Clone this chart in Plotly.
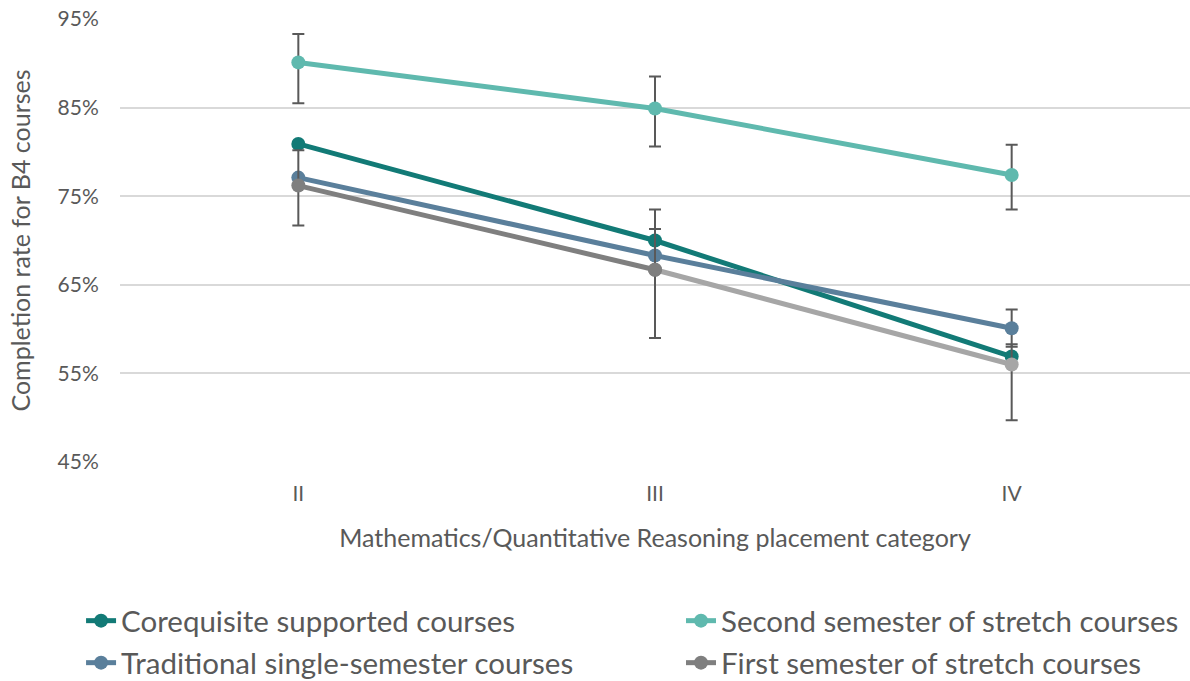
import plotly.graph_objects as go

categories = ["II", "III", "IV"]

coreq = [80.9, 70.0, 56.9]
second = [90.1, 84.9, 77.4]
traditional = [77.1, 68.3, 60.1]
first = [76.2, 66.7, 56.0]

coreq_plus = [0.0, 3.5, 0.0]
coreq_minus = [0.0, 0.0, 0.0]
second_plus = [3.2, 3.6, 3.4]
second_minus = [4.6, 4.3, 3.9]
trad_plus = [0.0, 0.0, 2.1]
trad_minus = [0.0, 0.0, 2.1]
first_plus = [4.0, 4.6, 2.3]
first_minus = [4.5, 7.7, 6.3]

y_ticks = [45, 55, 65, 75, 85, 95]
y_tick_labels = ["45%", "55%", "65%", "75%", "85%", "95%"]

names = ["Corequisite supported courses", "Second semester of stretch courses",
         "Traditional single-semester courses", "First semester of stretch courses"]

C_COREQ = "#127a76"
C_SECOND = "#5fb9ae"
C_TRAD = "#5a7f9b"
C_FIRST = "#7f7f7f"
C_FIRST_LIGHT = "#a6a6a6"
C_ERR = "#595959"
C_TEXT = "#595959"
FONT = "Lato"

def err(plus, minus):
    return dict(type="data", symmetric=False, array=plus, arrayminus=minus,
                color=C_ERR, thickness=2, width=6)

fig = go.Figure()

fig.add_trace(go.Scatter(x=categories, y=coreq, name=names[0], mode="lines+markers",
                         legend="legend",
                         line=dict(color=C_COREQ, width=5), marker=dict(color=C_COREQ, size=14),
                         error_y=err(coreq_plus, coreq_minus)))
fig.add_trace(go.Scatter(x=categories, y=second, name=names[1], mode="lines+markers",
                         legend="legend2",
                         line=dict(color=C_SECOND, width=5), marker=dict(color=C_SECOND, size=14),
                         error_y=err(second_plus, second_minus)))
fig.add_trace(go.Scatter(x=categories, y=traditional, name=names[2], mode="lines+markers",
                         legend="legend3",
                         line=dict(color=C_TRAD, width=5), marker=dict(color=C_TRAD, size=14),
                         error_y=err(trad_plus, trad_minus)))
# light grey segment III -> IV of the first semester series
fig.add_trace(go.Scatter(x=categories[1:], y=first[1:], name=names[3], mode="lines+markers",
                         showlegend=False,
                         line=dict(color=C_FIRST_LIGHT, width=5),
                         marker=dict(color=[C_FIRST, C_FIRST_LIGHT], size=14),
                         error_y=err(first_plus[1:], first_minus[1:])))
fig.add_trace(go.Scatter(x=categories[:2], y=first[:2], name=names[3], mode="lines+markers",
                         legend="legend4",
                         line=dict(color=C_FIRST, width=5), marker=dict(color=C_FIRST, size=14),
                         error_y=err(first_plus[:2], first_minus[:2])))

def leg(x, y):
    return dict(orientation="v", x=x, y=y, xanchor="left", yanchor="middle",
                font=dict(size=29.5, color=C_TEXT, family=FONT),
                bgcolor="rgba(0,0,0,0)", borderwidth=0)

fig.update_layout(
    width=1190, height=681,
    margin=dict(l=120, r=0, t=19, b=219, autoexpand=False),
    paper_bgcolor="white", plot_bgcolor="white",
    font=dict(family=FONT, color=C_TEXT, size=21),
    showlegend=True,
    legend=leg(-0.0364, -0.3589),
    legend2=leg(0.5243, -0.3589),
    legend3=leg(-0.0364, -0.4537),
    legend4=leg(0.5243, -0.4537),
    xaxis=dict(type="category", range=[-0.5, 2.5], showgrid=False, zeroline=False,
               showline=False, ticks="outside", ticklen=13, tickcolor="rgba(0,0,0,0)",
               tickfont=dict(size=21, color=C_TEXT),
               title=dict(text="Mathematics/Quantitative Reasoning placement category",
                          font=dict(size=25, color=C_TEXT), standoff=25)),
    yaxis=dict(range=[45, 95], tickvals=y_ticks, ticktext=y_tick_labels,
               showgrid=True, gridcolor="#d9d9d9", gridwidth=1.5, zeroline=False,
               showline=False, ticks="outside", ticklen=16, tickcolor="rgba(0,0,0,0)",
               tickfont=dict(size=21, color=C_TEXT),
               title=dict(text="Completion rate for B4 courses",
                          font=dict(size=25, color=C_TEXT), standoff=19)),
)

fig.write_html("out.html", config={"displayModeBar": False},
               post_script="document.body.style.margin='0px';")
